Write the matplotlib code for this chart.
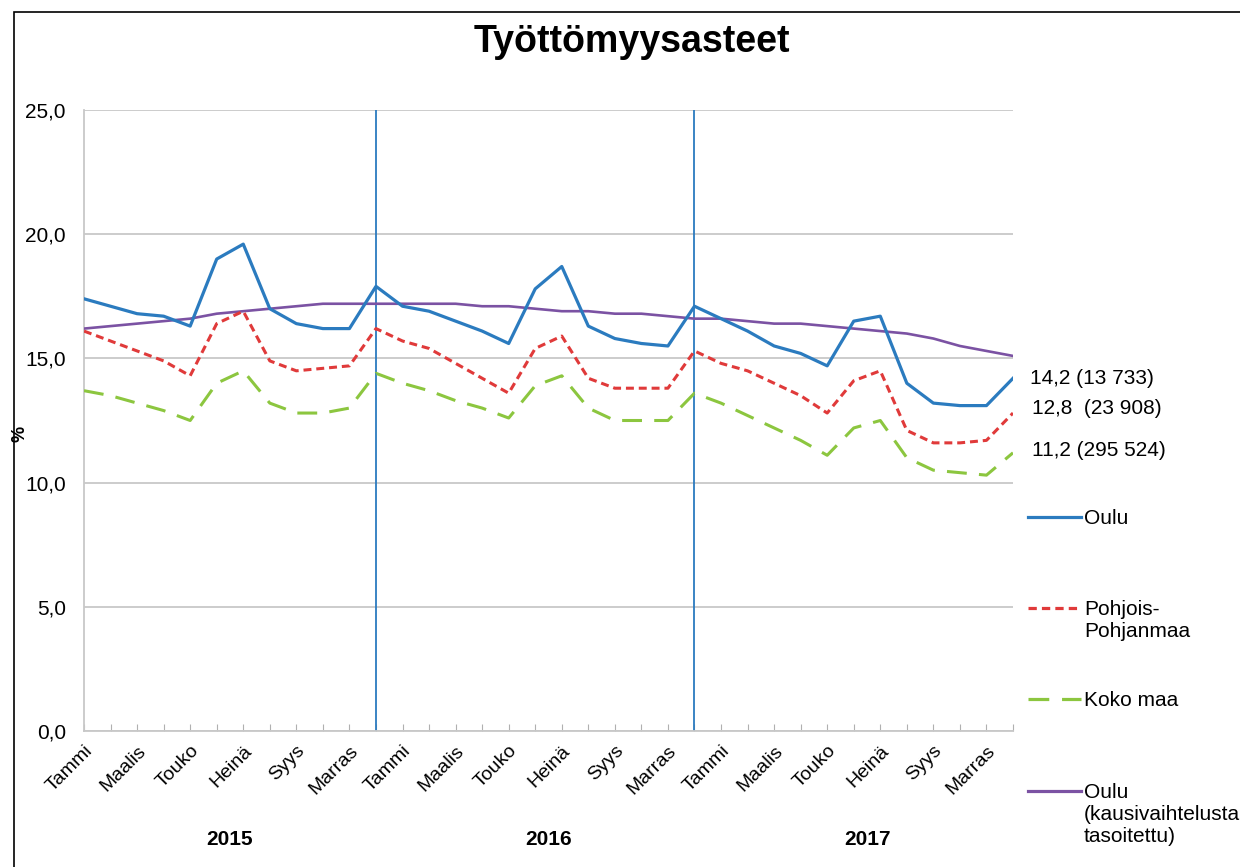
import numpy as np
import matplotlib
matplotlib.use('Agg')
from matplotlib import pyplot as plt
from matplotlib.lines import Line2D
from matplotlib.patches import Rectangle

plt.rcParams['font.family'] = ['Liberation Sans', 'DejaVu Sans']

# kuukaudet 2015-2017
months = ['Tammi', 'Helmi', 'Maalis', 'Huhti', 'Touko', 'Kesä',
          'Heinä', 'Elo', 'Syys', 'Loka', 'Marras', 'Joulu'] * 3
years = ['2015', '2016', '2017']

oulu = [17.4, 17.1, 16.8, 16.7, 16.3, 19.0, 19.6, 17.0, 16.4, 16.2, 16.2, 17.9,
        17.1, 16.9, 16.5, 16.1, 15.6, 17.8, 18.7, 16.3, 15.8, 15.6, 15.5, 17.1,
        16.6, 16.1, 15.5, 15.2, 14.7, 16.5, 16.7, 14.0, 13.2, 13.1, 13.1, 14.2]
pohjois = [16.1, 15.7, 15.3, 14.9, 14.3, 16.4, 16.9, 14.9, 14.5, 14.6, 14.7, 16.2,
           15.7, 15.4, 14.8, 14.2, 13.6, 15.4, 15.9, 14.2, 13.8, 13.8, 13.8, 15.3,
           14.8, 14.5, 14.0, 13.5, 12.8, 14.1, 14.5, 12.1, 11.6, 11.6, 11.7, 12.8]
koko = [13.7, 13.5, 13.2, 12.9, 12.5, 14.0, 14.5, 13.2, 12.8, 12.8, 13.0, 14.4,
        14.0, 13.7, 13.3, 13.0, 12.6, 13.9, 14.3, 13.0, 12.5, 12.5, 12.5, 13.6,
        13.2, 12.7, 12.2, 11.7, 11.1, 12.2, 12.5, 11.0, 10.5, 10.4, 10.3, 11.2]
oulu_tasoitettu = [16.2, 16.3, 16.4, 16.5, 16.6, 16.8, 16.9, 17.0, 17.1, 17.2, 17.2, 17.2,
                   17.2, 17.2, 17.2, 17.1, 17.1, 17.0, 16.9, 16.9, 16.8, 16.8, 16.7, 16.6,
                   16.6, 16.5, 16.4, 16.4, 16.3, 16.2, 16.1, 16.0, 15.8, 15.5, 15.3, 15.1]
end_labels = ['14,2 (13 733)', '12,8  (23 908)', '11,2 (295 524)']

c_oulu = '#2b7bbf'
c_pohj = '#e03a3a'
c_koko = '#8cc63f'
c_tas = '#7b52a3'

fig = plt.figure(figsize=(12.4, 8.67), dpi=100)
ax = fig.add_axes([84/1240, 1-731/867, (1013-84)/1240, (731-110)/867])

x = np.arange(len(oulu))
ax.plot(x, oulu_tasoitettu, color=c_tas, lw=1.9, zorder=3)
ax.plot(x, koko, color=c_koko, lw=2.2, dashes=(6.5, 4), zorder=3)
ax.plot(x, pohjois, color=c_pohj, lw=2.2, dashes=(2.6, 1.6), zorder=3)
ax.plot(x, oulu, color=c_oulu, lw=2.3, zorder=4)

# vuosien rajat (joulukuu)
for xv in [11, 23]:
    ax.axvline(xv, color=c_oulu, lw=1.3, zorder=2)

yt = np.arange(0, 26, 5)
ax.set_xlim(0, len(oulu) - 1)
ax.set_ylim(0, 25)
ax.set_yticks(yt)
ax.set_yticklabels([('%.1f' % v).replace('.', ',') for v in yt], fontsize=15)
ax.grid(axis='y', color='#c8c8c8', lw=1.3)
ax.set_axisbelow(True)
for s in ['top', 'right']:
    ax.spines[s].set_visible(False)
for s in ['left', 'bottom']:
    ax.spines[s].set_color('#c8c8c8')
    ax.spines[s].set_linewidth(1.3)
ax.tick_params(axis='y', length=0, pad=13)

ax.set_xticks(x)
ax.set_xticklabels([m if i % 2 == 0 else '' for i, m in enumerate(months)],
                   rotation=45, ha='right', va='top', rotation_mode='anchor',
                   fontsize=14)
ax.tick_params(axis='x', direction='in', length=5, color='#b0b0b0', pad=8)

fig.text(20/1240, 1-434/867, '%', rotation=90, ha='center', va='center',
         fontsize=13, fontweight='bold')

for k, yr in enumerate(years):
    ax.text(5.5 + 12 * k, -0.175, yr, transform=ax.get_xaxis_transform(),
            ha='center', va='center', fontsize=15, fontweight='bold')

# loppuarvot
ax.annotate(end_labels[0], xy=(x[-1], oulu[-1]), xytext=(12, 0), textcoords='offset points',
            ha='left', va='center', fontsize=15, annotation_clip=False)
ax.annotate(end_labels[1], xy=(x[-1], pohjois[-1]), xytext=(14, 3), textcoords='offset points',
            ha='left', va='center', fontsize=15, annotation_clip=False)
ax.annotate(end_labels[2], xy=(x[-1], koko[-1]), xytext=(14, 2), textcoords='offset points',
            ha='left', va='center', fontsize=15, annotation_clip=False)

fig.text(632/1240, 1-42/867, 'Työttömyysasteet', ha='center', va='center',
         fontsize=27, fontweight='bold')

# selite
leg = [('Oulu', c_oulu, None, 517),
       ('Pohjois-\nPohjanmaa', c_pohj, (2.6, 1.6), 608),
       ('Koko maa', c_koko, (6.5, 4), 699),
       ('Oulu\n(kausivaihtelusta\ntasoitettu)', c_tas, None, 791)]
for lab, col, dsh, yp in leg:
    yf = 1 - yp/867
    ln = Line2D([1028/1240, 1081/1240], [yf, yf], color=col, lw=2.3, transform=fig.transFigure)
    if dsh:
        ln.set_dashes(dsh)
    fig.add_artist(ln)
    fig.text(1084/1240, yf + 0.009, lab, ha='left', va='top', fontsize=15, linespacing=1.2)

fig.add_artist(Rectangle((14/1240, -0.05), 1.1, 1.05 - 12/867, fill=False,
                         edgecolor='black', lw=1.2, transform=fig.transFigure))

fig.savefig('out.png', dpi=100)
